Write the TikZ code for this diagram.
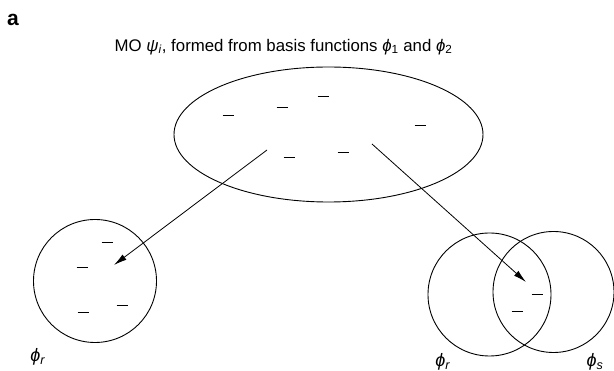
\documentclass[tikz,border=0pt]{standalone}
\usepackage{fontspec}
\setmainfont{Liberation Sans}
\usetikzlibrary{arrows.meta, shapes.geometric}

\newcommand{\gsym}[2]{\textit{#1}\textsubscript{#2}}

\begin{document}
\begin{tikzpicture}[
    x=1pt, y=-1pt,
    orbital/.style={
        ellipse, draw=black, line width=0.9pt,
        minimum width=309pt, minimum height=135pt, inner sep=0pt
    },
    basis/.style={
        circle, draw=black, line width=0.9pt,
        minimum size=#1, inner sep=0pt
    },
    minusbar/.style={line width=1pt},
    arr/.style={
        -{Latex[length=13pt, width=6.5pt]}, line width=0.8pt
    },
    lbl/.style={font=\fontsize{16.8}{19}\selectfont, inner sep=0pt}
]
\useasboundingbox (0,0) rectangle (614,371);

% Panel letter and heading
\node[font=\fontsize{21}{23}\selectfont\bfseries, inner sep=0pt] (panel) at (13,20) {a};
\node[lbl] (title) at (283.5,47)
    {MO \gsym{ψ}{\textit{i}}, formed from basis functions \gsym{ϕ}{1} and \gsym{ϕ}{2}};

% Molecular orbital (top)
\node[orbital] (mo) at (328.5,134.5) {};

% Basis functions
\node[basis=123pt] (phir)  at (95,281) {};
\node[basis=123pt] (phir2) at (489.5,294.5) {};
\node[basis=121pt] (phis)  at (553.5,292) {};

% Labels
\node[lbl, font=\fontsize{18}{20}\selectfont] (lphir)  at (38,357) {\gsym{ϕ}{\textit{r}}};
\node[lbl, font=\fontsize{18}{20}\selectfont] (lphir2) at (443,362) {\gsym{ϕ}{\textit{r}}};
\node[lbl, font=\fontsize{18}{20}\selectfont] (lphis)  at (595,362) {\gsym{ϕ}{\textit{s}}};

% Electrons
\foreach \x/\y in {228/116, 282/108, 323/97, 420/126, 289/158, 343/153,
                   107/243, 82/268, 83/313, 122/306,
                   537/295, 517/312} {
    \draw[minusbar] (\x-5.5,\y) -- (\x+5.5,\y);
}

% Arrows: MO -> basis functions
\coordinate (leftstart)  at (267,150);
\coordinate (leftend)    at (114,265);
\coordinate (rightstart) at (372,144);
\coordinate (rightend)   at (526,282);
\draw[arr] (leftstart) -- (leftend);
\draw[arr] (rightstart) -- (rightend);

\end{tikzpicture}
\end{document}
